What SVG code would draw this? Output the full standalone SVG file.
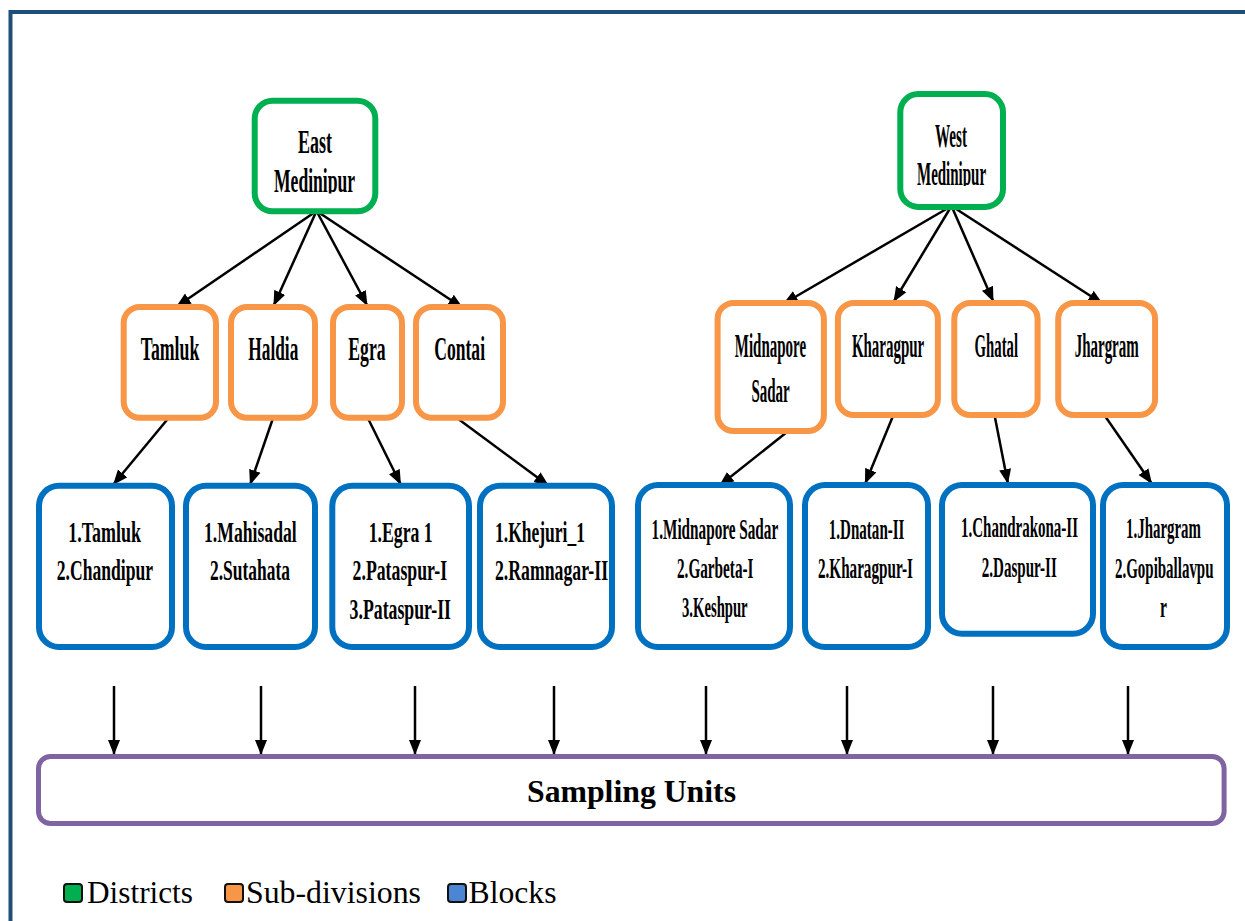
<svg xmlns="http://www.w3.org/2000/svg" width="1245" height="921" viewBox="0 0 1245 921">
<style>
.dist{fill:#fff;stroke:#00B050;stroke-width:6}
.sub{fill:#fff;stroke:#F79646;stroke-width:6}
.blk{fill:#fff;stroke:#0070C0;stroke-width:6}
.su{fill:#fff;stroke:#8064A2;stroke-width:5}
.t{font-family:"Liberation Serif","Times New Roman",serif;font-weight:bold;fill:#000}
.t33{font-size:33px}
.t29{font-size:29px}
.t32{font-size:32px}
.lg{font-family:"Liberation Serif","Times New Roman",serif;font-size:31px;fill:#000}
.con{stroke:#000;stroke-width:2.5;fill:none;marker-end:url(#ah)}
.sq{stroke:#111;stroke-width:2}
</style>
<defs>
<marker id="ah" markerUnits="userSpaceOnUse" markerWidth="16" markerHeight="13" refX="15" refY="6.5" orient="auto">
<path d="M0,0.5 L15,6.5 L0,12.5 z" fill="#000"/>
</marker>
<clipPath id="clipE"><rect x="260" y="100" width="110" height="93.5"/></clipPath>
<clipPath id="clipW"><rect x="905" y="95" width="95" height="91"/></clipPath>
</defs>
<rect width="1245" height="921" fill="#fff"/>
<path d="M10.5 921 V12 H1245" fill="none" stroke="#1F4E79" stroke-width="4"/>

<g id="connectors">
<line class="con" x1="316.5" y1="211" x2="176" y2="307"/>
<line class="con" x1="316.5" y1="211" x2="273.5" y2="306"/>
<line class="con" x1="316.5" y1="211" x2="367.5" y2="306"/>
<line class="con" x1="316.5" y1="211" x2="463" y2="308"/>
<line class="con" x1="951.5" y1="206" x2="783" y2="304"/>
<line class="con" x1="951.5" y1="206" x2="893.5" y2="302"/>
<line class="con" x1="951.5" y1="206" x2="993.5" y2="302"/>
<line class="con" x1="951.5" y1="206" x2="1103" y2="304"/>
<line class="con" x1="167.7" y1="419" x2="113" y2="485"/>
<line class="con" x1="272.7" y1="419" x2="250" y2="485"/>
<line class="con" x1="368.3" y1="419" x2="401" y2="485"/>
<line class="con" x1="458.3" y1="419" x2="549" y2="486"/>
<line class="con" x1="787" y1="432" x2="719" y2="486"/>
<line class="con" x1="893" y1="416" x2="865" y2="484"/>
<line class="con" x1="994.7" y1="416" x2="1008" y2="484"/>
<line class="con" x1="1105" y1="416" x2="1152" y2="484"/>
<line class="con" x1="114" y1="686" x2="114" y2="755"/>
<line class="con" x1="261" y1="686" x2="261" y2="755"/>
<line class="con" x1="415" y1="686" x2="415" y2="755"/>
<line class="con" x1="554" y1="686" x2="554" y2="755"/>
<line class="con" x1="706" y1="686" x2="706" y2="755"/>
<line class="con" x1="847" y1="686" x2="847" y2="755"/>
<line class="con" x1="993" y1="686" x2="993" y2="755"/>
<line class="con" x1="1128" y1="686" x2="1128" y2="755"/>
</g>

<g id="east-medinipur">
<rect class="dist" x="254.7" y="100.7" width="120.6" height="110.6" rx="18"/>
<text class="t t33" transform="matrix(0.55,0,0,1,298,153)" textLength="61.8" lengthAdjust="spacingAndGlyphs">East</text>
<g clip-path="url(#clipE)"><text class="t t33" transform="matrix(0.55,0,0,1,274,191.5)" textLength="147.3" lengthAdjust="spacingAndGlyphs">Medinipur</text></g>
</g>
<g id="west-medinipur">
<rect class="dist" x="900.3" y="94" width="102.7" height="113" rx="18"/>
<text class="t t33" transform="matrix(0.55,0,0,1,935,146.7)" textLength="58.2" lengthAdjust="spacingAndGlyphs">West</text>
<g clip-path="url(#clipW)"><text class="t t33" transform="matrix(0.55,0,0,1,917,184.5)" textLength="125.5" lengthAdjust="spacingAndGlyphs">Medinipur</text></g>
</g>

<g id="sd-tamluk">
<rect class="sub" x="123.7" y="307" width="92.3" height="110.7" rx="16"/>
<text class="t t33" transform="matrix(0.55,0,0,1,140.7,360)" textLength="106.5" lengthAdjust="spacingAndGlyphs">Tamluk</text>
</g>
<g id="sd-haldia">
<rect class="sub" x="231" y="307" width="84" height="110.7" rx="16"/>
<text class="t t33" transform="matrix(0.55,0,0,1,248.3,360)" textLength="90.9" lengthAdjust="spacingAndGlyphs">Haldia</text>
</g>
<g id="sd-egra">
<rect class="sub" x="333" y="307" width="69" height="110.7" rx="16"/>
<text class="t t33" transform="matrix(0.55,0,0,1,348.3,360)" textLength="67.8" lengthAdjust="spacingAndGlyphs">Egra</text>
</g>
<g id="sd-contai">
<rect class="sub" x="416" y="307" width="87" height="110.7" rx="16"/>
<text class="t t33" transform="matrix(0.55,0,0,1,434.3,360)" textLength="92.2" lengthAdjust="spacingAndGlyphs">Contai</text>
</g>
<g id="sd-midnapore-sadar">
<rect class="sub" x="717.6" y="303" width="106.3" height="128" rx="16"/>
<text class="t t33" transform="matrix(0.55,0,0,1,734.8,356.7)" textLength="129.5" lengthAdjust="spacingAndGlyphs">Midnapore</text>
<text class="t t33" transform="matrix(0.55,0,0,1,751.4,402.3)" textLength="69.6" lengthAdjust="spacingAndGlyphs">Sadar</text>
</g>
<g id="sd-kharagpur">
<rect class="sub" x="837.9" y="303" width="100" height="112" rx="16"/>
<text class="t t33" transform="matrix(0.55,0,0,1,851.9,356.7)" textLength="131.5" lengthAdjust="spacingAndGlyphs">Kharagpur</text>
</g>
<g id="sd-ghatal">
<rect class="sub" x="954.3" y="303" width="83.3" height="112" rx="16"/>
<text class="t t33" transform="matrix(0.55,0,0,1,974.6,356.7)" textLength="78.9" lengthAdjust="spacingAndGlyphs">Ghatal</text>
</g>
<g id="sd-jhargram">
<rect class="sub" x="1058.2" y="303" width="96.9" height="112" rx="16"/>
<text class="t t33" transform="matrix(0.55,0,0,1,1074.7,356.7)" textLength="116.4" lengthAdjust="spacingAndGlyphs">Jhargram</text>
</g>

<g id="bl-tamluk">
<rect class="blk" x="39" y="485.7" width="133" height="161.3" rx="20"/>
<text class="t t29" transform="matrix(0.55,0,0,1,68.3,541.5)" textLength="132.2" lengthAdjust="spacingAndGlyphs">1.Tamluk</text>
<text class="t t29" transform="matrix(0.55,0,0,1,56.8,580)" textLength="174.9" lengthAdjust="spacingAndGlyphs">2.Chandipur</text>
</g>
<g id="bl-haldia">
<rect class="blk" x="186" y="485.7" width="129" height="161.3" rx="20"/>
<text class="t t29" transform="matrix(0.55,0,0,1,204,541.5)" textLength="168.5" lengthAdjust="spacingAndGlyphs">1.Mahisadal</text>
<text class="t t29" transform="matrix(0.55,0,0,1,210,580)" textLength="145.5" lengthAdjust="spacingAndGlyphs">2.Sutahata</text>
</g>
<g id="bl-egra">
<rect class="blk" x="332.3" y="485.7" width="136.7" height="161.3" rx="20"/>
<text class="t t29" transform="matrix(0.55,0,0,1,368.7,541.5)" textLength="116.4" lengthAdjust="spacingAndGlyphs">1.Egra 1</text>
<text class="t t29" transform="matrix(0.55,0,0,1,352.6,580)" textLength="171.8" lengthAdjust="spacingAndGlyphs">2.Pataspur-I</text>
<text class="t t29" transform="matrix(0.55,0,0,1,349.6,619)" textLength="184.4" lengthAdjust="spacingAndGlyphs">3.Pataspur-II</text>
</g>
<g id="bl-contai">
<rect class="blk" x="480" y="485.7" width="132" height="161.3" rx="20"/>
<text class="t t29" transform="matrix(0.55,0,0,1,495,541.5)" textLength="163.6" lengthAdjust="spacingAndGlyphs">1.Khejuri_1</text>
<text class="t t29" transform="matrix(0.55,0,0,1,495,580)" textLength="205.5" lengthAdjust="spacingAndGlyphs">2.Ramnagar-II</text>
</g>
<g id="bl-midnapore-sadar">
<rect class="blk" x="638" y="485" width="152" height="162" rx="20"/>
<text class="t t29" transform="matrix(0.55,0,0,1,651.6,538.5)" textLength="230.2" lengthAdjust="spacingAndGlyphs">1.Midnapore Sadar</text>
<text class="t t29" transform="matrix(0.55,0,0,1,677,578)" textLength="139.1" lengthAdjust="spacingAndGlyphs">2.Garbeta-I</text>
<text class="t t29" transform="matrix(0.55,0,0,1,682,617)" textLength="119.3" lengthAdjust="spacingAndGlyphs">3.Keshpur</text>
</g>
<g id="bl-kharagpur">
<rect class="blk" x="805" y="485" width="123" height="162" rx="20"/>
<text class="t t29" transform="matrix(0.55,0,0,1,828.8,538.5)" textLength="137.6" lengthAdjust="spacingAndGlyphs">1.Dnatan-II</text>
<text class="t t29" transform="matrix(0.55,0,0,1,818,578)" textLength="172.7" lengthAdjust="spacingAndGlyphs">2.Kharagpur-I</text>
</g>
<g id="bl-ghatal">
<rect class="blk" x="942" y="485" width="151" height="148.7" rx="20"/>
<text class="t t29" transform="matrix(0.55,0,0,1,961,537)" textLength="212.7" lengthAdjust="spacingAndGlyphs">1.Chandrakona-II</text>
<text class="t t29" transform="matrix(0.55,0,0,1,981.8,577)" textLength="136.4" lengthAdjust="spacingAndGlyphs">2.Daspur-II</text>
</g>
<g id="bl-jhargram">
<rect class="blk" x="1103" y="485" width="124" height="162" rx="20"/>
<text class="t t29" transform="matrix(0.55,0,0,1,1126,538)" textLength="136.4" lengthAdjust="spacingAndGlyphs">1.Jhargram</text>
<text class="t t29" transform="matrix(0.55,0,0,1,1115,578)" textLength="179.1" lengthAdjust="spacingAndGlyphs">2.Gopiballavpu</text>
<text class="t t29" transform="matrix(0.55,0,0,1,1160,617)" textLength="12.7" lengthAdjust="spacingAndGlyphs">r</text>
</g>

<g id="sampling-units">
<rect class="su" x="38.5" y="756.5" width="1185.6" height="67" rx="12"/>
<text class="t t32" x="527" y="801.7" textLength="209" lengthAdjust="spacingAndGlyphs">Sampling Units</text>
</g>

<g id="legend">
<rect class="sq" x="64" y="884" width="18" height="18" rx="3" fill="#00B050"/>
<text class="lg" x="87" y="902.5" textLength="106" lengthAdjust="spacingAndGlyphs">Districts</text>
<rect class="sq" x="225" y="884" width="18" height="18" rx="3" fill="#F79646"/>
<text class="lg" x="246" y="902.5" textLength="175" lengthAdjust="spacingAndGlyphs">Sub-divisions</text>
<rect class="sq" x="448" y="884" width="18" height="18" rx="3" fill="#4A86D4"/>
<text class="lg" x="468.5" y="902.5" textLength="88" lengthAdjust="spacingAndGlyphs">Blocks</text>
</g>
</svg>
